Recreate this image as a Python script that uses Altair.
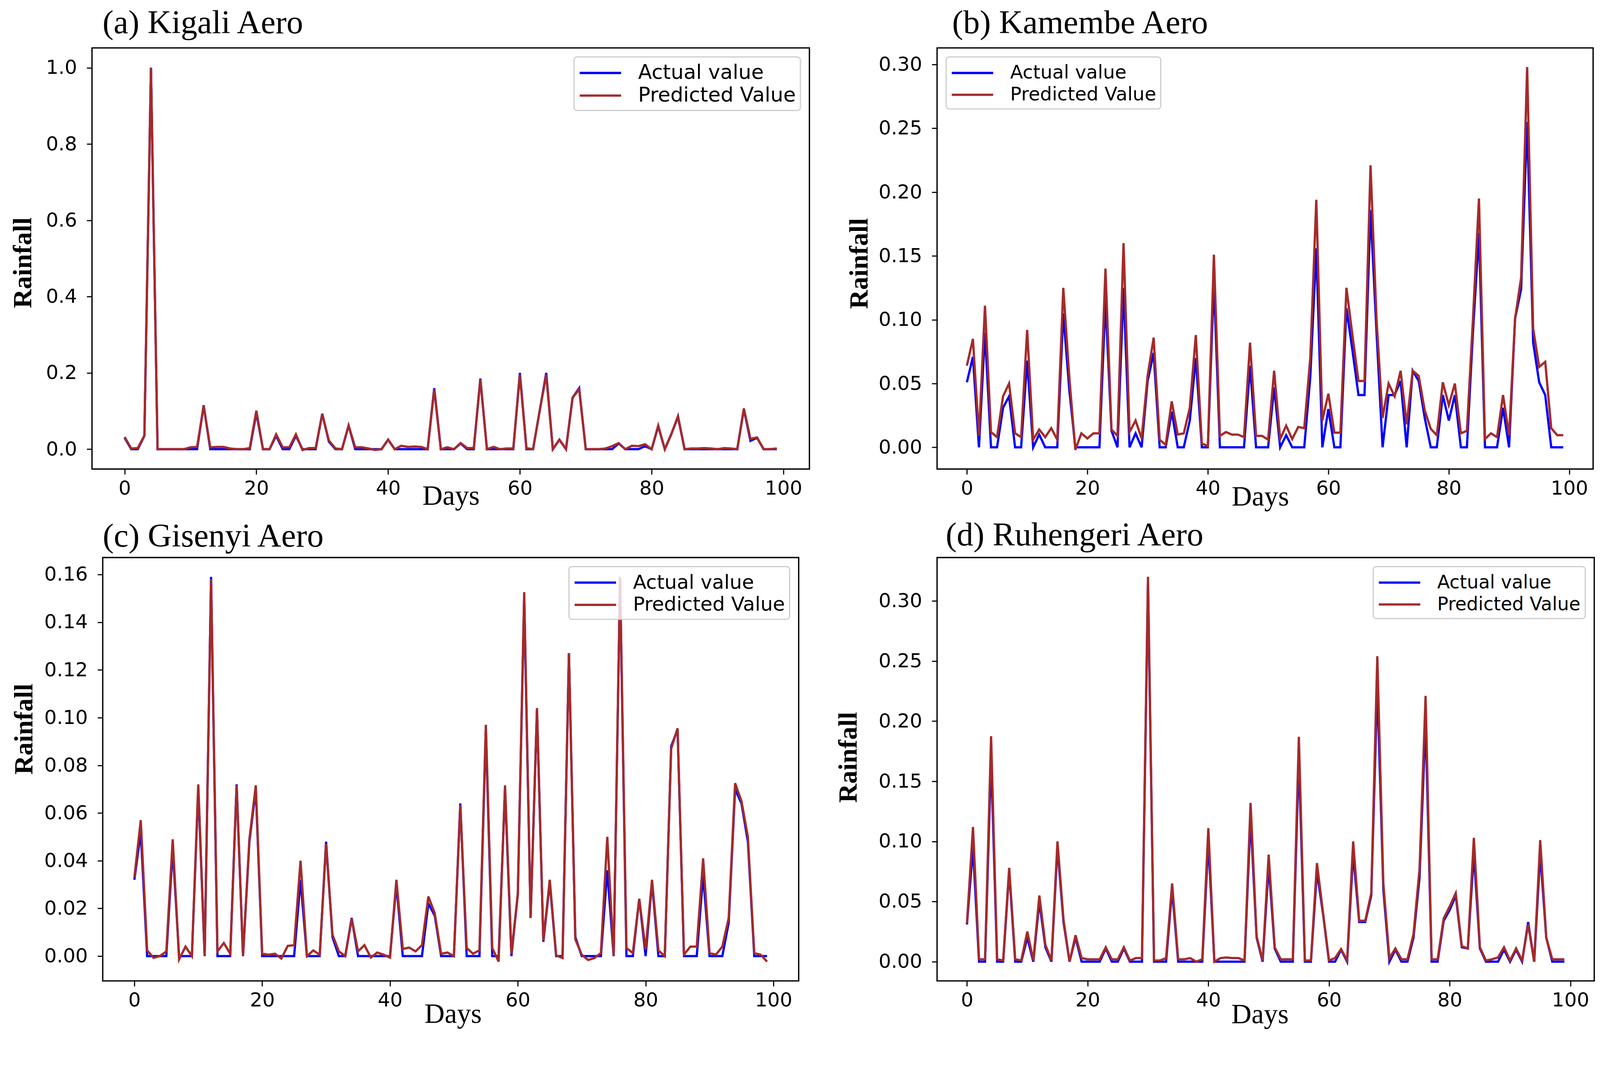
import altair as alt
import pandas as pd

DAYS = list(range(100))
SERIES = ["Actual value", "Predicted Value"]
COLORS = ["#0000ff", "#a52a2a"]
X_TICKS = [0, 20, 40, 60, 80, 100]

TITLES = ["(a) Kigali Aero", "(b) Kamembe Aero", "(c) Gisenyi Aero", "(d) Ruhengeri Aero"]

A_PRED = [0.032, 0.002, 0.003, 0.036, 1.0, 0, 0, 0, 0, 0,
          0.005, 0.006, 0.113, 0.005, 0.006, 0.006, 0.002, 0, 0, 0.003,
          0.101, 0, 0, 0.039, 0.005, 0.005, 0.039, -0.002, 0.003, 0.003,
          0.092, 0.023, 0.002, 0, 0.062, 0.005, 0.005, 0.002, -0.002, 0,
          0.025, 0, 0.009, 0.006, 0.007, 0.006, 0, 0.157, 0, 0.005,
          0, 0.016, 0.003, 0.003, 0.183, 0, 0.006, 0, 0.002, 0.002,
          0.195, 0.003, 0, 0.1, 0.195, 0, 0.025, 0, 0.135, 0.157,
          0, 0, 0, 0.002, 0.008, 0.016, 0, 0.009, 0.008, 0.013,
          0, 0.062, 0, 0.04, 0.087, 0, 0.002, 0.002, 0.003, 0.002,
          0, 0.003, 0.002, 0, 0.107, 0.027, 0.031, 0, 0, 0.002]
A_ACT = [0.03, 0, 0, 0.035, 1.0, 0, 0, 0, 0, 0,
         0, 0, 0.115, 0, 0, 0, 0, 0, 0, 0,
         0.095, 0, 0, 0.035, 0, 0, 0.035, 0, 0, 0,
         0.093, 0.02, 0, 0, 0.062, 0, 0, 0, 0, 0,
         0.025, 0, 0, 0, 0, 0, 0, 0.16, 0, 0,
         0, 0.015, 0, 0, 0.185, 0, 0, 0, 0, 0,
         0.2, 0, 0, 0.1, 0.2, 0, 0.025, 0, 0.135, 0.16,
         0, 0, 0, 0, 0, 0.015, 0, 0, 0, 0.008,
         0, 0.06, 0, 0.04, 0.085, 0, 0, 0, 0, 0,
         0, 0, 0, 0, 0.105, 0.022, 0.03, 0, 0, 0]

B_PRED = [0.064, 0.085, 0.009, 0.111, 0.012, 0.008, 0.040, 0.050, 0.011, 0.008,
          0.092, 0.006, 0.014, 0.008, 0.015, 0.006, 0.125, 0.055, -0.002, 0.011,
          0.007, 0.011, 0.011, 0.140, 0.014, 0.009, 0.160, 0.012, 0.021, 0.007,
          0.056, 0.086, 0.006, 0.002, 0.036, 0.010, 0.011, 0.031, 0.088, 0.003,
          0.001, 0.151, 0.009, 0.012, 0.010, 0.010, 0.008, 0.082, 0.009, 0.009,
          0.006, 0.060, 0.0065, 0.017, 0.0065, 0.016, 0.015, 0.070, 0.194, 0.021,
          0.042, 0.0115, 0.0115, 0.125, 0.088, 0.052, 0.052, 0.221, 0.100, 0.023,
          0.050, 0.040, 0.060, 0.018, 0.060, 0.056, 0.029, 0.0145, 0.0095, 0.051,
          0.033, 0.050, 0.011, 0.013, 0.100, 0.195, 0.0065, 0.011, 0.008, 0.041,
          0.0095, 0.101, 0.133, 0.298, 0.093, 0.063, 0.067, 0.015, 0.0095, 0.0095]
B_ACT = [0.051, 0.071, 0, 0.09, 0, 0, 0.031, 0.040, 0, 0,
         0.068, 0, 0.010, 0, 0, 0, 0.105, 0.045, 0, 0,
         0, 0, 0, 0.115, 0.013, 0, 0.125, 0, 0.011, 0,
         0.052, 0.074, 0, 0, 0.028, 0, 0, 0.021, 0.070, 0,
         0, 0.130, 0, 0, 0, 0, 0, 0.064, 0, 0,
         0, 0.047, 0, 0.0095, 0, 0, 0, 0.055, 0.156, 0,
         0.030, 0, 0, 0.109, 0.076, 0.041, 0.041, 0.186, 0.09, 0,
         0.041, 0.041, 0.052, 0, 0.060, 0.052, 0.023, 0, 0, 0.041,
         0.021, 0.041, 0, 0, 0.09, 0.168, 0, 0, 0, 0.031,
         0, 0.101, 0.124, 0.255, 0.082, 0.051, 0.041, 0, 0, 0]

C_PRED = [0.033, 0.057, 0.0024, -0.0007, 0, 0.002, 0.049, -0.0014, 0.004, 0,
          0.072, 0, 0.158, 0.002, 0.0055, 0.001, 0.0716, 0, 0.049, 0.0716,
          0.001, 0.0006, 0.001, -0.001, 0.0043, 0.0046, 0.040, 0, 0.0024, 0.0006,
          0.047, 0.009, 0.002, 0, 0.0157, 0.002, 0.0046, -0.0006, 0.0015, 0.0006,
          -0.0006, 0.032, 0.003, 0.0036, 0.002, 0.0046, 0.025, 0.018, 0.001, 0.0015,
          0, 0.0634, 0.0034, 0.001, 0.0025, 0.097, 0.0034, -0.0023, 0.0716, 0.001,
          0.026, 0.1526, 0.016, 0.104, 0.0065, 0.032, 0.0003, -0.0008, 0.127, 0.007,
          0.0006, -0.0016, -0.0008, 0.0013, 0.050, 0, 0.159, 0.0034, 0.0013, 0.024,
          0.0028, 0.032, 0.0024, 0, 0.087, 0.0955, 0.0006, 0.004, 0.004, 0.041,
          0.0013, 0.0006, 0.004, 0.016, 0.0725, 0.065, 0.050, 0.0013, 0.0006, -0.0023]
C_ACT = [0.032, 0.052, 0, 0, 0, 0, 0.045, 0, 0, 0,
         0.070, 0, 0.159, 0, 0, 0, 0.072, 0, 0.048, 0.070,
         0, 0, 0, 0, 0, 0, 0.032, 0, 0, 0,
         0.048, 0.008, 0, 0, 0.016, 0, 0, 0, 0, 0,
         0, 0.030, 0, 0, 0, 0, 0.022, 0.017, 0, 0,
         0, 0.064, 0, 0, 0, 0.095, 0, 0, 0.070, 0,
         0.026, 0.150, 0.016, 0.103, 0.006, 0.031, 0, 0, 0.127, 0.008,
         0, 0, 0, 0, 0.036, 0, 0.158, 0, 0, 0.024,
         0, 0.031, 0, 0, 0.088, 0.095, 0, 0, 0, 0.034,
         0, 0, 0, 0.014, 0.070, 0.064, 0.048, 0, 0, 0]

D_PRED = [0.032, 0.112, 0.002, 0.002, 0.1875, 0.002, 0.001, 0.078, 0.002, 0.001,
          0.025, 0.001, 0.055, 0.014, 0.001, 0.100, 0.035, 0, 0.022, 0.003,
          0.002, 0.002, 0.002, 0.012, 0.002, 0.002, 0.012, 0.001, 0.003, 0.003,
          0.320, 0.001, 0.001, 0.003, 0.065, 0.002, 0.002, 0.003, 0, 0.002,
          0.111, 0, 0.003, 0.0035, 0.003, 0.003, 0.001, 0.132, 0.021, 0.001,
          0.089, 0.012, 0.002, 0.002, 0.002, 0.187, 0.001, 0.001, 0.082, 0.041,
          0.001, 0.003, 0.0105, 0.001, 0.100, 0.034, 0.034, 0.057, 0.254, 0.065,
          0.003, 0.011, 0.002, 0.002, 0.023, 0.077, 0.221, 0.002, 0.002, 0.036,
          0.046, 0.057, 0.013, 0.011, 0.103, 0.012, 0.001, 0.002, 0.0035, 0.012,
          0.001, 0.011, 0.001, 0.031, 0, 0.101, 0.020, 0.002, 0.002, 0.002]
D_ACT = [0.031, 0.095, 0, 0, 0.17, 0, 0, 0.075, 0, 0,
         0.02, 0, 0.05, 0.012, 0, 0.095, 0.033, 0, 0.02, 0,
         0, 0, 0, 0.011, 0, 0, 0.011, 0, 0, 0,
         0.315, 0, 0, 0, 0.06, 0, 0, 0, 0, 0,
         0.10, 0, 0, 0, 0, 0, 0, 0.12, 0.02, 0,
         0.08, 0.011, 0, 0, 0, 0.17, 0, 0, 0.075, 0.04,
         0, 0, 0.01, 0, 0.09, 0.033, 0.033, 0.055, 0.23, 0.06,
         0, 0.01, 0, 0, 0.02, 0.07, 0.20, 0, 0, 0.034,
         0.043, 0.055, 0.012, 0.011, 0.09, 0.011, 0, 0, 0, 0.01,
         0, 0.01, 0, 0.033, 0, 0.09, 0.02, 0, 0, 0]

for arr in (A_PRED, A_ACT, B_PRED, B_ACT, C_PRED, C_ACT, D_PRED, D_ACT):
    assert len(arr) == 100, len(arr)

SERIF = "Liberation Serif"
SANS = "DejaVu Sans"


def panel(title, tdx, toff, act, pred, ydom, yticks, yfmt, w, h,
          legend_orient, legend_font, rx, ry, dx_days, dy_days):
    df = pd.DataFrame({
        "day": DAYS + DAYS,
        "value": act + pred,
        "series": [SERIES[0]] * 100 + [SERIES[1]] * 100,
    })
    base = alt.Chart(df).mark_line(strokeWidth=6).encode(
        x=alt.X("day:Q",
                scale=alt.Scale(domain=[-4.95, 103.95], nice=False, zero=False),
                axis=alt.Axis(values=X_TICKS, format="d", title="Days",
                              titleFont=SERIF, titleFontSize=74,
                              titleFontWeight="normal",
                              titleX=dx_days, titleY=dy_days,
                              titleAlign="center", titleBaseline="alphabetic")),
        y=alt.Y("value:Q",
                scale=alt.Scale(domain=ydom, nice=False, zero=False),
                axis=alt.Axis(values=yticks, format=yfmt, title="Rainfall",
                              titleFont=SERIF, titleFontSize=70,
                              titleFontWeight="bold",
                              titleAngle=270, titleX=rx, titleY=ry,
                              titleAlign="center", titleBaseline="alphabetic")),
        color=alt.Color("series:N",
                        scale=alt.Scale(domain=SERIES, range=COLORS),
                        legend=alt.Legend(title=None, orient=legend_orient, offset=24,
                                          labelFontSize=legend_font)),
    )
    return alt.layer(
        base.transform_filter(alt.datum.series == SERIES[0]),
        base.transform_filter(alt.datum.series == SERIES[1]),
    ).properties(
        width=w, height=h,
        title=alt.TitleParams(text=title, anchor="start", frame="group",
                              dx=tdx, offset=toff, baseline="alphabetic",
                              font=SERIF, fontSize=88, fontWeight="normal",
                              color="black"),
    )


pa = panel(TITLES[0], 28, -49, A_ACT, A_PRED, [-0.052, 1.052],
           [0, 0.2, 0.4, 0.6, 0.8, 1.0], ".1f", 1905, 1118, "top-right", 54,
           -162, 570, 953, 94)
pb = panel(TITLES[1], 40, -49, B_ACT, B_PRED, [-0.017, 0.313],
           [0, 0.05, 0.10, 0.15, 0.20, 0.25, 0.30], ".2f", 1742, 1118, "top-left", 50,
           -185, 572, 858, 97)
pc = panel(TITLES[2], 0, -59, C_ACT, C_PRED, [-0.0104, 0.1671],
           [0, 0.02, 0.04, 0.06, 0.08, 0.10, 0.12, 0.14, 0.16], ".2f", 1848, 1124, "top-right", 52,
           -187, 455, 930, 111)
pd_ = panel(TITLES[3], 23, -56, D_ACT, D_PRED, [-0.016, 0.336],
            [0, 0.05, 0.10, 0.15, 0.20, 0.25, 0.30], ".2f", 1745, 1124, "top-right", 49,
            -214, 530, 857, 112)

chart = alt.concat(
    pa, pb, pc, pd_,
    columns=2, spacing={"row": 235, "column": 339}, bounds="flush", center=True,
).properties(
    padding={"left": 16, "top": -42, "right": 5, "bottom": 5},
    background="white",
).configure_view(
    stroke="black", strokeWidth=3.5,
).configure_axis(
    grid=False, domain=False,
    labelFont=SANS, labelFontSize=52, labelColor="black",
    tickColor="black", tickSize=14, tickWidth=3,
    titleColor="black",
).configure_axisY(
    labelPadding=26,
).configure_axisX(
    labelPadding=12,
).configure_legend(
    symbolType="M-1,0H3", symbolSize=3025, symbolStrokeWidth=6,
    labelFont=SANS, labelColor="black", labelLimit=1000,
    labelOffset=97, rowPadding=2, padding=12,
    fillColor="rgba(255,255,255,0.8)", strokeColor="#cccccc", strokeWidth=3, cornerRadius=8,
)

chart.save("out.html", embed_options={"renderer": "svg", "actions": False})
